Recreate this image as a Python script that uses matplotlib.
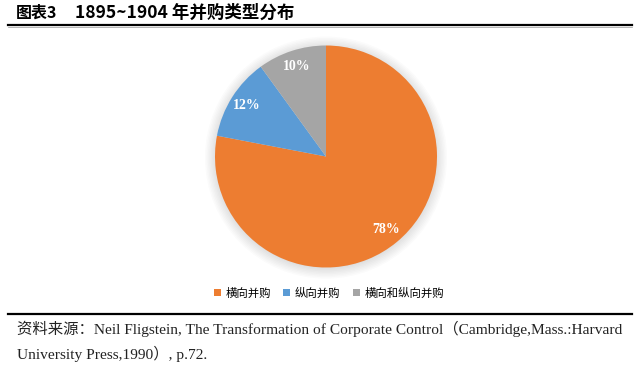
import matplotlib.pyplot as plt
from matplotlib.patches import Patch, Circle
from matplotlib.lines import Line2D

# data
labels = ["横向并购", "纵向并购", "横向和纵向并购"]
shares = [78, 12, 10]
colors = ["#ED7D31", "#5B9BD5", "#A5A5A5"]

title_a = "图表3"
title_b = "1895~1904 年并购类型分布"
source1 = "资料来源：Neil Fligstein, The Transformation of Corporate Control（Cambridge,Mass.:Harvard"
source2 = "University Press,1990）, p.72."

cjk = ["Noto Sans CJK SC", "DejaVu Sans"]
serif = ["Liberation Serif", "Noto Sans CJK SC"]

fig = plt.figure(figsize=(6.4, 3.72), dpi=100)
W, H = 640, 372

# pie axes: center (326,156.5), radius 111 px
cx, cy, r = 326, 156.5, 111
ax = fig.add_axes([(cx - r) / W, 1 - (cy + r) / H, 2 * r / W, 2 * r / H])

# soft glow behind the pie
for k in range(8):
    ax.add_patch(Circle((0, -0.01), 1.0 + 0.013 * k, color="black",
                        alpha=0.016, lw=0, zorder=0, clip_on=False))

wedges, texts, autotexts = ax.pie(
    shares, colors=colors, startangle=90, counterclock=False,
    autopct="%d%%", pctdistance=0.85, radius=1.0,
    wedgeprops=dict(linewidth=0, zorder=2),
    textprops=dict(color="white", fontsize=10, fontweight="bold", family=serif))
ax.set_xlim(-1, 1)
ax.set_ylim(-1, 1)
ax.set_aspect("equal")
ax.axis("off")

# title and rules
fig.text(16 / W, 1 - 13 / H, title_a, fontsize=11.5, fontweight="bold",
         family=cjk, va="center", ha="left")
fig.text(75 / W, 1 - 13 / H, title_b, fontsize=12.6, fontweight="bold",
         family=cjk, va="center", ha="left")
fig.add_artist(Line2D([8 / W, 632 / W], [1 - 24.5 / H] * 2, color="black", lw=1.6))
fig.add_artist(Line2D([8 / W, 632 / W], [1 - 26.5 / H] * 2, color="#999999", lw=0.5))
fig.add_artist(Line2D([8 / W, 632 / W], [1 - 314 / H] * 2, color="black", lw=1.6))

# legend
handles = [Patch(facecolor=c, edgecolor="none") for c in colors]
fig.legend(handles, labels, loc="center", bbox_to_anchor=(329 / W, 1 - 293 / H),
           ncol=3, frameon=False, prop={"family": cjk, "size": 8.2},
           handlelength=0.6, handleheight=0.6, handletextpad=0.4, columnspacing=1.1)

# source note
fig.text(17 / W, 1 - 329 / H, source1, fontsize=11.1, family=serif,
         va="center", ha="left", color="#222222")
fig.text(17 / W, 1 - 354 / H, source2, fontsize=11.1, family=serif,
         va="center", ha="left", color="#222222")

fig.savefig("out.png", dpi=100)
